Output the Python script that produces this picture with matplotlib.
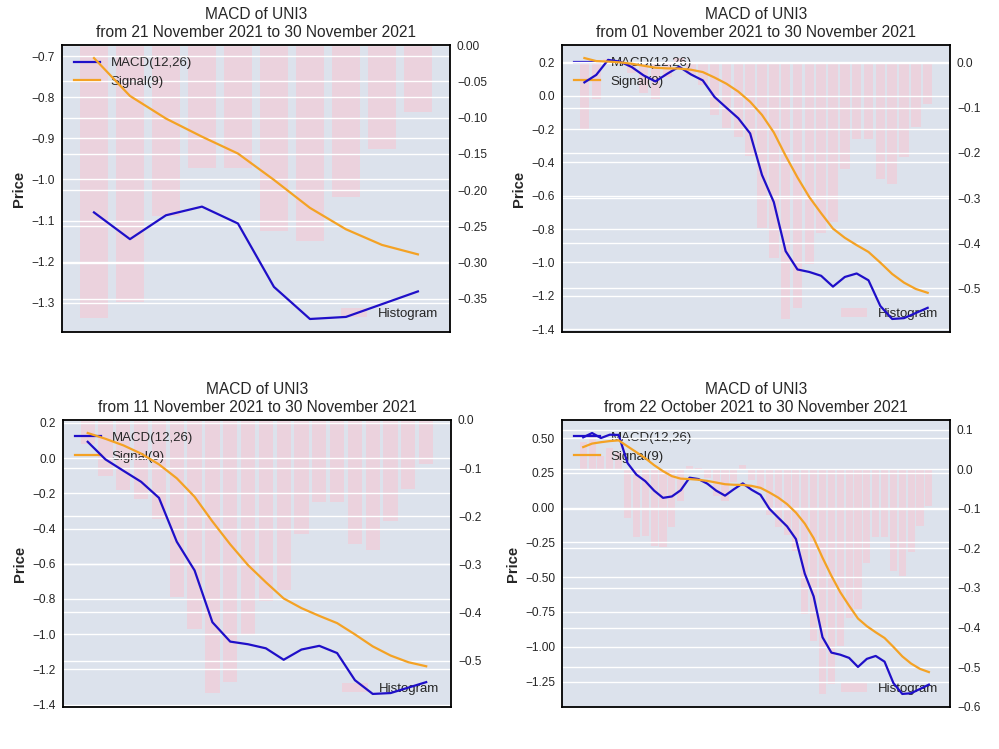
import matplotlib
matplotlib.use("Agg")
import matplotlib.pyplot as plt
import numpy as np
import pandas as pd

plt.rcParams['font.family'] = ['Liberation Sans', 'DejaVu Sans']

ticker = "UNI3"
dates = pd.date_range("2021-10-22", "2021-11-30", freq="D")

macd = [0.505, 0.536, 0.500, 0.524, 0.522, 0.320, 0.237, 0.190, 0.122, 0.070,
        0.080, 0.125, 0.215, 0.205, 0.172, 0.122, 0.086, 0.132, 0.174, 0.128,
        0.092, -0.008, -0.072, -0.135, -0.226, -0.475, -0.638, -0.932, -1.042, -1.057,
        -1.080, -1.145, -1.087, -1.066, -1.107, -1.261, -1.339, -1.334, -1.303, -1.272]

signal = [0.435, 0.460, 0.470, 0.478, 0.483, 0.440, 0.398, 0.355, 0.305, 0.262,
          0.226, 0.208, 0.205, 0.200, 0.192, 0.180, 0.168, 0.164, 0.163, 0.156,
          0.142, 0.109, 0.072, 0.025, -0.036, -0.115, -0.220, -0.360, -0.490, -0.608,
          -0.705, -0.797, -0.852, -0.896, -0.937, -1.001, -1.069, -1.121, -1.159, -1.182]

hist = [0.070, 0.092, 0.035, 0.055, 0.045, -0.122, -0.170, -0.168, -0.193, -0.196,
        -0.147, -0.080, 0.008, 0.004, -0.022, -0.068, -0.080, -0.032, 0.010, -0.028,
        -0.050, -0.116, -0.146, -0.165, -0.206, -0.367, -0.434, -0.568, -0.544, -0.446,
        -0.377, -0.354, -0.236, -0.170, -0.170, -0.257, -0.270, -0.210, -0.143, -0.092]

window_starts = ["2021-11-21", "2021-11-01", "2021-11-11", "2021-10-22"]

BG = "#dce2ec"
TXT = "#262626"
MACD_C = "#1f0fc8"
SIG_C = "#f4a224"

fig = plt.figure(figsize=(9.99, 7.49), dpi=100)
positions = [
    [0.062, 0.5567, 0.3884, 0.3832],
    [0.5626, 0.5567, 0.3884, 0.3832],
    [0.063, 0.0561, 0.3884, 0.3832],
    [0.5626, 0.0561, 0.3884, 0.3832],
]

macd_a = np.array(macd)
sig_a = np.array(signal)
hist_a = np.array(hist)

for start, pos in zip(window_starts, positions):
    mask = dates >= pd.Timestamp(start)
    d = dates[mask]
    ax = fig.add_axes(pos)
    ax2 = ax.twinx()
    bars = ax2.bar(d, hist_a[mask], width=0.8, color="pink", alpha=0.45)
    l1, = ax.plot(d, macd_a[mask], color=MACD_C, lw=1.6)
    l2, = ax.plot(d, sig_a[mask], color=SIG_C, lw=1.6)

    ax.set_zorder(ax2.get_zorder() + 1)
    ax.patch.set_visible(False)
    ax2.patch.set_visible(True)
    ax2.set_facecolor(BG)

    ax.set_xticks([])
    for a in (ax, ax2):
        a.tick_params(axis="y", length=0, pad=5, labelsize=8.6, colors=TXT)
        a.yaxis.grid(True, color="white", lw=1.0)
        a.xaxis.grid(False)
    for sp in ax.spines.values():
        sp.set_color("black")
        sp.set_linewidth(1.3)
    for sp in ax2.spines.values():
        sp.set_visible(False)

    ax.set_ylabel("Price", fontsize=10.6, fontweight="bold", color=TXT)
    end = d[-1]
    s = d[0]
    ax.set_title(f"MACD of {ticker}\nfrom {s:%d %B %Y} to {end:%d %B %Y}",
                 fontsize=11.2, color=TXT)

    leg1 = ax2.legend([l1, l2], ["MACD(12,26)", "Signal(9)"], loc="upper left",
                      frameon=False, fontsize=9.5, labelcolor=TXT)
    ax2.add_artist(leg1)
    ax2.legend([bars], ["Histogram"], loc="lower right", frameon=False,
               fontsize=9.5, labelcolor=TXT)

fig.savefig("out.png", dpi=100, facecolor="white")
